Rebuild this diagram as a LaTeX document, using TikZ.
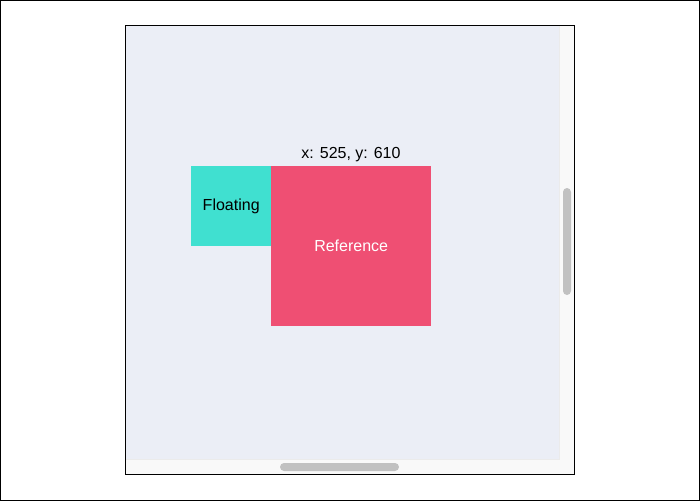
\documentclass[tikz,border=0pt]{standalone}
\usepackage{fontspec}
\setmainfont{Liberation Sans}
\definecolor{viewbg}{HTML}{EBEEF6}
\definecolor{track}{HTML}{F9F9F9}
\definecolor{thumb}{HTML}{C1C1C1}
\definecolor{turq}{HTML}{40E0D0}
\definecolor{refred}{HTML}{EF4F73}
\tikzset{
  box/.style={draw=none, minimum width=80pt, minimum height=80pt, inner sep=0pt, anchor=north west, font=\fontsize{16}{19}\selectfont},
  thumbbar/.style={fill=thumb, rounded corners=4pt}
}
\begin{document}
\begin{tikzpicture}[x=1pt,y=-1pt]
\useasboundingbox (0,0) rectangle (700,501);
\fill[white] (0,0) rectangle (700,501);
\draw[line width=1.2pt] (0.6,0.6) rectangle (699.4,500.4);
% viewport
\fill[track] (125,25) rectangle (574,474);
\fill[viewbg] (125,25) rectangle (559,459);
\draw[color=black!8, line width=0.5pt] (559,25) -- (559,459) -- (125,459);
\fill[thumbbar] (563,188) rectangle (571,295);
\fill[thumbbar] (280,463) rectangle (399,471);
\draw[line width=1pt] (125,25) rectangle (574,474);
% boxes
\node[box, fill=turq, text=black, minimum width=80pt] (floating) at (191,166) {Floating};
\node[box, fill=refred, text=white, minimum width=160pt, minimum height=160pt] (reference) at (271,166) {Reference};
\node[font=\fontsize{16}{19}\selectfont, anchor=base] (coords) at (351,158) {x: 525, y: 610};
\end{tikzpicture}
\end{document}
